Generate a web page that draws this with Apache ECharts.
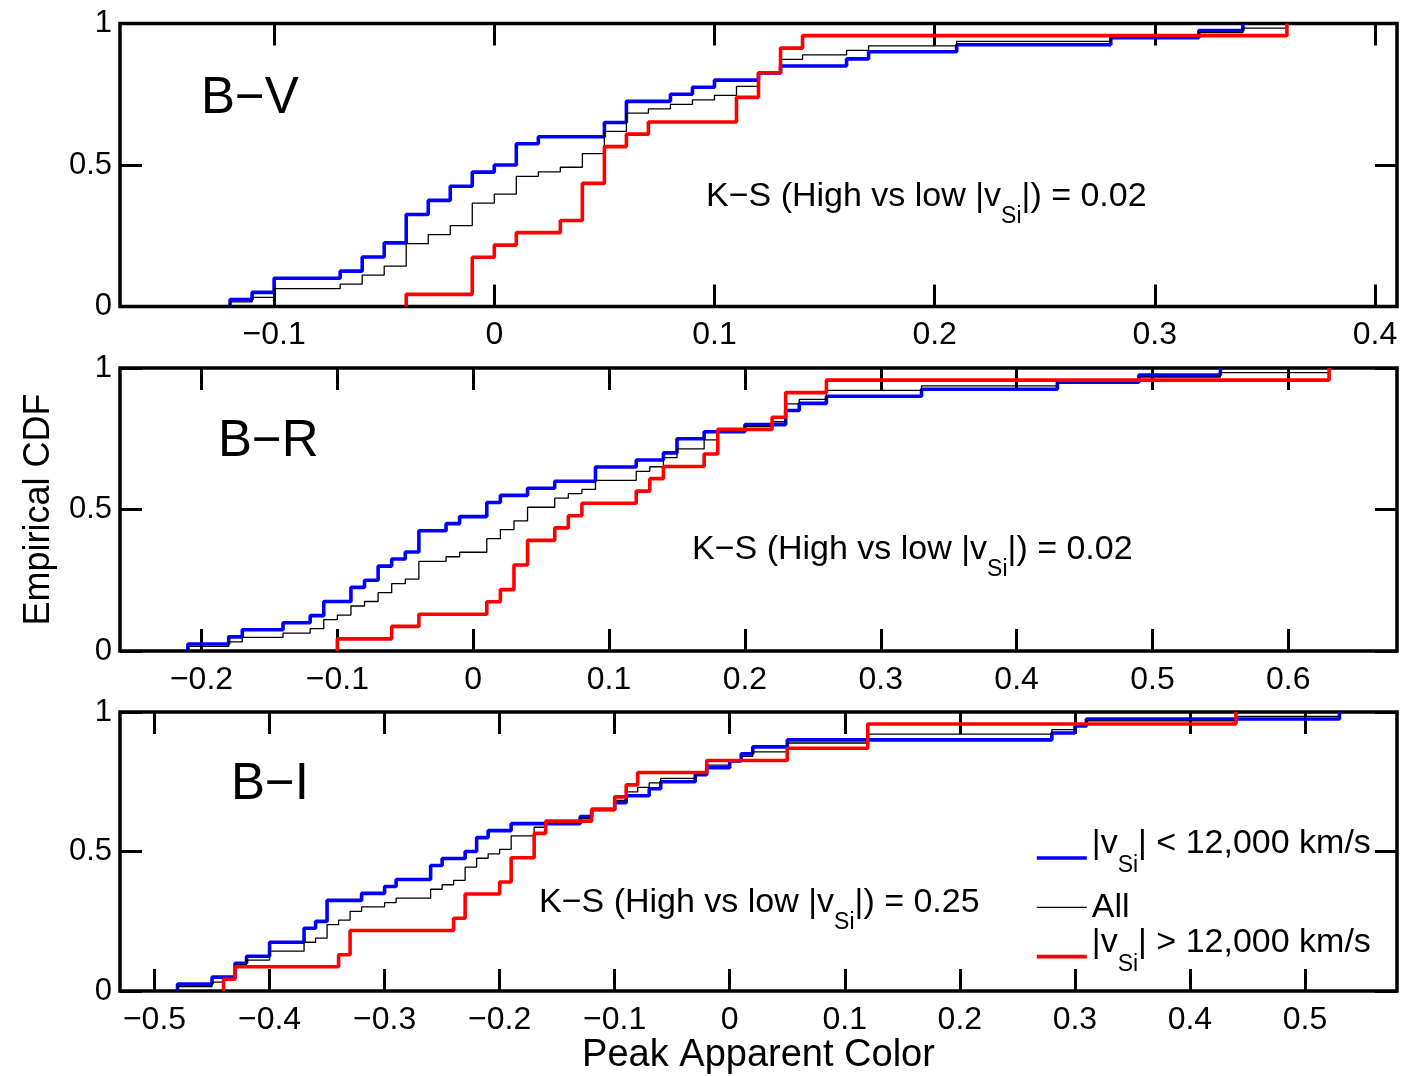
<!DOCTYPE html>
<html>
<head>
<meta charset="utf-8">
<script src="https://cdn.jsdelivr.net/npm/echarts@6/dist/echarts.min.js"></script>
<style>
  html, body { margin: 0; padding: 0; background: #fff; }
  #chart { width: 1411px; height: 1076px; }
</style>
</head>
<body>
<div id="chart"></div>
<script>
// Empirical CDFs of peak apparent colour; each array holds the colour values where
// the CDF steps up and the CDF level reached there.

// B−V
const bvLowX  = [-0.12, -0.11, -0.10, -0.07, -0.06, -0.05, -0.04, -0.03, -0.02, -0.01, 0.00, 0.01, 0.02, 0.05, 0.06, 0.08, 0.09, 0.10, 0.12, 0.13, 0.16, 0.17, 0.21, 0.28, 0.32, 0.34];
const bvLowF  = [0.025, 0.05, 0.10, 0.125, 0.175, 0.225, 0.325, 0.375, 0.425, 0.475, 0.50, 0.575, 0.60, 0.65, 0.725, 0.75, 0.775, 0.80, 0.825, 0.85, 0.875, 0.90, 0.925, 0.95, 0.975, 1.0];
const bvAllX  = [-0.12, -0.11, -0.10, -0.07, -0.06, -0.05, -0.04, -0.03, -0.02, -0.01, 0.00, 0.01, 0.02, 0.03, 0.04, 0.05, 0.06, 0.07, 0.08, 0.09, 0.10, 0.11, 0.12, 0.13, 0.14, 0.16, 0.17, 0.21, 0.28, 0.32, 0.34, 0.36];
const bvAllF  = [0.016, 0.032, 0.063, 0.079, 0.111, 0.143, 0.222, 0.254, 0.286, 0.365, 0.397, 0.460, 0.476, 0.492, 0.540, 0.619, 0.683, 0.698, 0.714, 0.730, 0.746, 0.778, 0.825, 0.873, 0.889, 0.905, 0.921, 0.937, 0.952, 0.968, 0.984, 1.0];
const bvHighX = [-0.04, -0.01, 0.00, 0.01, 0.03, 0.04, 0.05, 0.06, 0.07, 0.11, 0.12, 0.13, 0.14, 0.36];
const bvHighF = [0.043, 0.174, 0.217, 0.261, 0.304, 0.435, 0.565, 0.609, 0.652, 0.739, 0.826, 0.913, 0.957, 1.0];

// B−R
const brLowX  = [-0.21, -0.18, -0.17, -0.14, -0.12, -0.11, -0.09, -0.08, -0.07, -0.06, -0.05, -0.04, -0.02, -0.01, 0.01, 0.02, 0.04, 0.06, 0.09, 0.12, 0.14, 0.15, 0.17, 0.20, 0.23, 0.24, 0.26, 0.33, 0.43, 0.49, 0.55];
const brLowF  = [0.025, 0.05, 0.075, 0.10, 0.125, 0.175, 0.225, 0.25, 0.30, 0.325, 0.35, 0.425, 0.45, 0.475, 0.525, 0.55, 0.575, 0.60, 0.65, 0.675, 0.70, 0.75, 0.775, 0.80, 0.85, 0.875, 0.90, 0.925, 0.95, 0.975, 1.0];
const brAllX  = [-0.21, -0.18, -0.17, -0.14, -0.12, -0.11, -0.10, -0.09, -0.08, -0.07, -0.06, -0.05, -0.04, -0.02, -0.01, 0.01, 0.02, 0.03, 0.04, 0.06, 0.07, 0.08, 0.09, 0.12, 0.13, 0.14, 0.15, 0.17, 0.18, 0.20, 0.22, 0.23, 0.24, 0.26, 0.33, 0.43, 0.49, 0.55, 0.63];
const brAllF  = [0.016, 0.032, 0.048, 0.063, 0.079, 0.111, 0.127, 0.159, 0.175, 0.206, 0.238, 0.254, 0.317, 0.333, 0.349, 0.397, 0.429, 0.460, 0.508, 0.540, 0.556, 0.571, 0.603, 0.635, 0.651, 0.683, 0.714, 0.746, 0.778, 0.794, 0.810, 0.873, 0.889, 0.921, 0.937, 0.952, 0.968, 0.984, 1.0];
const brHighX = [-0.10, -0.06, -0.04, 0.01, 0.02, 0.03, 0.04, 0.06, 0.07, 0.08, 0.12, 0.13, 0.14, 0.17, 0.18, 0.22, 0.23, 0.26, 0.63];
const brHighF = [0.043, 0.087, 0.130, 0.174, 0.217, 0.304, 0.391, 0.435, 0.478, 0.522, 0.565, 0.609, 0.652, 0.696, 0.783, 0.826, 0.913, 0.957, 1.0];

// B−I
const biLowX  = [-0.48, -0.45, -0.43, -0.42, -0.40, -0.37, -0.36, -0.35, -0.32, -0.30, -0.29, -0.26, -0.25, -0.23, -0.22, -0.21, -0.19, -0.13, -0.12, -0.10, -0.09, -0.07, -0.06, -0.03, -0.02, 0.00, 0.01, 0.02, 0.05, 0.28, 0.30, 0.31, 0.53];
const biLowF  = [0.025, 0.05, 0.10, 0.125, 0.175, 0.225, 0.25, 0.325, 0.35, 0.375, 0.40, 0.45, 0.475, 0.50, 0.55, 0.575, 0.60, 0.625, 0.65, 0.675, 0.70, 0.725, 0.75, 0.775, 0.80, 0.825, 0.85, 0.875, 0.90, 0.925, 0.95, 0.975, 1.0];
const biAllX  = [-0.48, -0.45, -0.44, -0.43, -0.42, -0.40, -0.37, -0.36, -0.35, -0.34, -0.33, -0.32, -0.30, -0.29, -0.26, -0.25, -0.24, -0.23, -0.22, -0.21, -0.20, -0.19, -0.17, -0.16, -0.13, -0.12, -0.10, -0.09, -0.08, -0.07, -0.06, -0.03, -0.02, 0.00, 0.01, 0.02, 0.05, 0.12, 0.28, 0.30, 0.31, 0.44, 0.53];
const biAllF  = [0.016, 0.032, 0.048, 0.095, 0.111, 0.143, 0.175, 0.190, 0.238, 0.254, 0.286, 0.302, 0.317, 0.333, 0.365, 0.381, 0.397, 0.444, 0.476, 0.492, 0.508, 0.556, 0.587, 0.603, 0.619, 0.651, 0.683, 0.714, 0.730, 0.746, 0.762, 0.778, 0.810, 0.825, 0.841, 0.857, 0.889, 0.921, 0.937, 0.952, 0.968, 0.984, 1.0];
const biHighX = [-0.44, -0.43, -0.34, -0.33, -0.24, -0.23, -0.20, -0.19, -0.17, -0.16, -0.12, -0.10, -0.09, -0.08, -0.02, 0.05, 0.12, 0.44];
const biHighF = [0.043, 0.087, 0.130, 0.217, 0.261, 0.348, 0.391, 0.478, 0.565, 0.609, 0.652, 0.696, 0.739, 0.783, 0.826, 0.870, 0.957, 1.0];

// Axis ranges and tick labels
const bvRange = [-0.17, 0.41];
const brRange = [-0.26, 0.68];
const biRange = [-0.53, 0.58];
const bvTicks = [-0.1, 0, 0.1, 0.2, 0.3, 0.4];
const brTicks = [-0.2, -0.1, 0, 0.1, 0.2, 0.3, 0.4, 0.5, 0.6];
const biTicks = [-0.5, -0.4, -0.3, -0.2, -0.1, 0, 0.1, 0.2, 0.3, 0.4, 0.5];
const yTicks = [0, 0.5, 1];

const panelNames = ['B\u2212V', 'B\u2212R', 'B\u2212I'];
const ksValues = ['0.02', '0.02', '0.25'];
const legendLabels = {
  low: '{m||v}{s|Si}{m|| < 12,000 km/s}',
  all: '{a|All}',
  high: '{m||v}{s|Si}{m|| > 12,000 km/s}'
};

const FONT = '"Liberation Sans", Arial, Helvetica, sans-serif';
const BLUE = '#0000ff', RED = '#ff0000', BLACK = '#000000';

function steps(xs, fs) {
  const d = [[xs[0], 0]];
  xs.forEach((x, i) => d.push([x, fs[i]]));
  return d;
}
function tickText(v) {
  const s = String(Math.round(Math.abs(v) * 10) / 10);
  return v < -1e-9 ? '\u2212' + s : s;
}

const panels = [
  { range: bvRange, ticks: bvTicks, low: [bvLowX, bvLowF], all: [bvAllX, bvAllF], high: [bvHighX, bvHighF] },
  { range: brRange, ticks: brTicks, low: [brLowX, brLowF], all: [brAllX, brAllF], high: [brHighX, brHighF] },
  { range: biRange, ticks: biTicks, low: [biLowX, biLowF], all: [biAllX, biAllF], high: [biHighX, biHighF] }
];
const gridTops = [23.5, 368, 712];
const GRID_H = 283;

const grid = [], xAxis = [], yAxis = [], series = [];
const tickStyle = { show: true, inside: true, length: 22, lineStyle: { color: BLACK, width: 3 } };
const noLine = { show: false, onZero: false };

panels.forEach((p, i) => {
  grid.push({ left: 120, right: 14, top: gridTops[i], height: GRID_H, show: true,
              borderColor: BLACK, borderWidth: 3.5, backgroundColor: 'transparent' });
  const xBase = { type: 'value', gridIndex: i, min: p.range[0], max: p.range[1],
                  splitLine: { show: false }, axisLine: noLine };
  xAxis.push(Object.assign({}, xBase, {
    position: 'bottom',
    axisTick: Object.assign({ customValues: p.ticks }, tickStyle),
    axisLabel: { customValues: p.ticks, formatter: tickText, margin: 13,
                 color: BLACK, fontSize: 32, fontFamily: FONT },
    name: i === 2 ? 'Peak Apparent Color' : '',
    nameLocation: 'middle', nameGap: 43,
    nameTextStyle: { color: BLACK, fontSize: 38, fontFamily: FONT }
  }));
  xAxis.push(Object.assign({}, xBase, {
    position: 'top',
    axisTick: Object.assign({ customValues: p.ticks }, tickStyle),
    axisLabel: { show: false }
  }));
  const yBase = { type: 'value', gridIndex: i, min: 0, max: 1,
                  splitLine: { show: false }, axisLine: noLine };
  yAxis.push(Object.assign({}, yBase, {
    position: 'left',
    axisTick: Object.assign({ customValues: yTicks }, tickStyle),
    axisLabel: { customValues: yTicks, formatter: v => String(v), margin: 8,
                 color: BLACK, fontSize: 31, fontFamily: FONT },
    name: i === 1 ? 'Empirical CDF' : '',
    nameLocation: 'middle', nameGap: 63, nameRotate: 90,
    nameTextStyle: { color: BLACK, fontSize: 36, fontFamily: FONT }
  }));
  yAxis.push(Object.assign({}, yBase, {
    position: 'right',
    axisTick: Object.assign({ customValues: yTicks }, tickStyle),
    axisLabel: { show: false }
  }));

  const common = { type: 'line', step: 'end', xAxisIndex: 2 * i, yAxisIndex: 2 * i,
                   showSymbol: false, symbol: 'none', silent: true, animation: false };
  series.push(Object.assign({}, common, { name: 'low', data: steps(...p.low),
               lineStyle: { color: BLUE, width: 3.6 }, itemStyle: { color: BLUE } }));
  series.push(Object.assign({}, common, { name: 'all', data: steps(...p.all),
               lineStyle: { color: BLACK, width: 1.3 }, itemStyle: { color: BLACK } }));
  series.push(Object.assign({}, common, { name: 'high', data: steps(...p.high),
               lineStyle: { color: RED, width: 3.6 }, itemStyle: { color: RED } }));
});

// Panel titles and K−S annotations
const titlePos = [[201, 99], [218, 442], [231, 785]];
const ksPos = [[706, 197], [692, 550], [539, 903]];
const ksRich = {
  m: { fontSize: 34, fontFamily: FONT, fill: BLACK, color: BLACK, lineHeight: 36 },
  s: { fontSize: 23, fontFamily: FONT, fill: BLACK, color: BLACK, lineHeight: 36, padding: [40, 0, 0, 0] }
};
const graphic = [];
panelNames.forEach((t, i) => {
  graphic.push({ type: 'text', x: titlePos[i][0], y: titlePos[i][1], silent: true,
    style: { text: t, fontSize: 51, fontFamily: FONT, fill: BLACK, verticalAlign: 'middle' } });
  graphic.push({ type: 'text', x: ksPos[i][0], y: ksPos[i][1], silent: true,
    style: { text: '{m|K\u2212S (High vs low |v}{s|Si}{m||) = ' + ksValues[i] + '}',
             rich: ksRich, verticalAlign: 'middle' } });
});

// Legend keys show the line only, no marker
const keyMarker = { color: 'transparent', borderColor: 'transparent', borderWidth: 0, opacity: 0 };

const option = {
  animation: false,
  backgroundColor: '#ffffff',
  grid, xAxis, yAxis, series, graphic,
  legend: {
    orient: 'vertical', left: 1035, top: 827, padding: 0,
    itemWidth: 50, itemHeight: 14, itemGap: 1.3, selectedMode: false,
    data: [
      { name: 'low',  lineStyle: { color: BLUE, width: 3.6 }, itemStyle: keyMarker },
      { name: 'all',  lineStyle: { color: BLACK, width: 1.3 }, itemStyle: keyMarker },
      { name: 'high', lineStyle: { color: RED, width: 3.6 }, itemStyle: keyMarker }
    ],
    formatter: name => legendLabels[name],
    textStyle: {
      color: BLACK, fontFamily: FONT, fontSize: 34,
      rich: {
        m: { fontSize: 34, fontFamily: FONT, color: BLACK, lineHeight: 30, padding: [0, 0, 28, 0] },
        s: { fontSize: 23, fontFamily: FONT, color: BLACK, lineHeight: 30, padding: [16, 0, 0, 0] },
        a: { fontSize: 34, fontFamily: FONT, color: BLACK, lineHeight: 30 }
      }
    }
  }
};

const chart = echarts.init(document.getElementById('chart'), null, { renderer: 'canvas' });
chart.setOption(option);
</script>
</body>
</html>
